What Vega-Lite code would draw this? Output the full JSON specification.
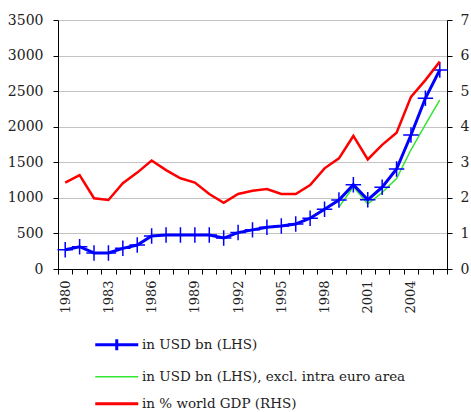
{
  "$schema": "https://vega.github.io/schema/vega-lite/v6.json",
  "width": 389,
  "height": 249,
  "autosize": {"type": "none"},
  "padding": {"left": 58, "top": 20, "right": 24, "bottom": 143},
  "config": {
    "font": "DejaVu Serif",
    "view": {"stroke": null},
    "axis": {"domainColor": "#000000", "tickColor": "#000000", "labelColor": "#222222", "labelFont": "DejaVu Serif", "title": null},
    "legend": {"labelFont": "DejaVu Serif"}
  },
  "data": {
    "values": [
      {"year": 1980, "series": "in USD bn (LHS)", "value": 270},
      {"year": 1981, "series": "in USD bn (LHS)", "value": 313},
      {"year": 1982, "series": "in USD bn (LHS)", "value": 225},
      {"year": 1983, "series": "in USD bn (LHS)", "value": 225},
      {"year": 1984, "series": "in USD bn (LHS)", "value": 290},
      {"year": 1985, "series": "in USD bn (LHS)", "value": 337},
      {"year": 1986, "series": "in USD bn (LHS)", "value": 464},
      {"year": 1987, "series": "in USD bn (LHS)", "value": 478},
      {"year": 1988, "series": "in USD bn (LHS)", "value": 478},
      {"year": 1989, "series": "in USD bn (LHS)", "value": 478},
      {"year": 1990, "series": "in USD bn (LHS)", "value": 478},
      {"year": 1991, "series": "in USD bn (LHS)", "value": 435},
      {"year": 1992, "series": "in USD bn (LHS)", "value": 512},
      {"year": 1993, "series": "in USD bn (LHS)", "value": 550},
      {"year": 1994, "series": "in USD bn (LHS)", "value": 586},
      {"year": 1995, "series": "in USD bn (LHS)", "value": 605},
      {"year": 1996, "series": "in USD bn (LHS)", "value": 633},
      {"year": 1997, "series": "in USD bn (LHS)", "value": 713},
      {"year": 1998, "series": "in USD bn (LHS)", "value": 839},
      {"year": 1999, "series": "in USD bn (LHS)", "value": 970},
      {"year": 2000, "series": "in USD bn (LHS)", "value": 1185},
      {"year": 2001, "series": "in USD bn (LHS)", "value": 972},
      {"year": 2002, "series": "in USD bn (LHS)", "value": 1150},
      {"year": 2003, "series": "in USD bn (LHS)", "value": 1405},
      {"year": 2004, "series": "in USD bn (LHS)", "value": 1884},
      {"year": 2005, "series": "in USD bn (LHS)", "value": 2400},
      {"year": 2006, "series": "in USD bn (LHS)", "value": 2798},
      {"year": 1999, "series": "in USD bn (LHS), excl. intra euro area", "value": 870},
      {"year": 2000, "series": "in USD bn (LHS), excl. intra euro area", "value": 1155},
      {"year": 2001, "series": "in USD bn (LHS), excl. intra euro area", "value": 915},
      {"year": 2002, "series": "in USD bn (LHS), excl. intra euro area", "value": 1075},
      {"year": 2003, "series": "in USD bn (LHS), excl. intra euro area", "value": 1272},
      {"year": 2004, "series": "in USD bn (LHS), excl. intra euro area", "value": 1676},
      {"year": 2005, "series": "in USD bn (LHS), excl. intra euro area", "value": 2028},
      {"year": 2006, "series": "in USD bn (LHS), excl. intra euro area", "value": 2376},
      {"year": 1980, "series": "in % world GDP (RHS)", "value": 2.43},
      {"year": 1981, "series": "in % world GDP (RHS)", "value": 2.64},
      {"year": 1982, "series": "in % world GDP (RHS)", "value": 1.99},
      {"year": 1983, "series": "in % world GDP (RHS)", "value": 1.94},
      {"year": 1984, "series": "in % world GDP (RHS)", "value": 2.41},
      {"year": 1985, "series": "in % world GDP (RHS)", "value": 2.71},
      {"year": 1986, "series": "in % world GDP (RHS)", "value": 3.05},
      {"year": 1987, "series": "in % world GDP (RHS)", "value": 2.78},
      {"year": 1988, "series": "in % world GDP (RHS)", "value": 2.55},
      {"year": 1989, "series": "in % world GDP (RHS)", "value": 2.43},
      {"year": 1990, "series": "in % world GDP (RHS)", "value": 2.11},
      {"year": 1991, "series": "in % world GDP (RHS)", "value": 1.86},
      {"year": 1992, "series": "in % world GDP (RHS)", "value": 2.11},
      {"year": 1993, "series": "in % world GDP (RHS)", "value": 2.2},
      {"year": 1994, "series": "in % world GDP (RHS)", "value": 2.25},
      {"year": 1995, "series": "in % world GDP (RHS)", "value": 2.11},
      {"year": 1996, "series": "in % world GDP (RHS)", "value": 2.11},
      {"year": 1997, "series": "in % world GDP (RHS)", "value": 2.36},
      {"year": 1998, "series": "in % world GDP (RHS)", "value": 2.83},
      {"year": 1999, "series": "in % world GDP (RHS)", "value": 3.11},
      {"year": 2000, "series": "in % world GDP (RHS)", "value": 3.74},
      {"year": 2001, "series": "in % world GDP (RHS)", "value": 3.08},
      {"year": 2002, "series": "in % world GDP (RHS)", "value": 3.49},
      {"year": 2003, "series": "in % world GDP (RHS)", "value": 3.83},
      {"year": 2004, "series": "in % world GDP (RHS)", "value": 4.84},
      {"year": 2005, "series": "in % world GDP (RHS)", "value": 5.31},
      {"year": 2006, "series": "in % world GDP (RHS)", "value": 5.83}
    ]
  },
  "encoding": {
    "x": {
      "field": "year",
      "type": "ordinal",
      "scale": {"type": "band", "paddingInner": 0, "paddingOuter": 0},
      "axis": {
        "labelAngle": 270,
        "labelExpr": "(datum.value - 1980) % 3 == 0 ? datum.value : ''",
        "tickBand": "extent",
        "tickSize": 5,
        "labelPadding": 6,
        "labelFontSize": 13,
        "grid": false
      }
    },
    "color": {
      "field": "series",
      "type": "nominal",
      "scale": {
        "domain": ["in USD bn (LHS)", "in USD bn (LHS), excl. intra euro area", "in % world GDP (RHS)"],
        "range": ["#0000ff", "#33e633", "#ff0000"]
      },
      "legend": {
        "orient": "none",
        "legendX": 52,
        "legendY": 318,
        "title": null,
        "direction": "vertical",
        "labelFontSize": 13.5,
        "labelColor": "#222222",
        "labelLimit": 400,
        "symbolSize": 1850,
        "symbolType": "M-1,0H1",
        "rowPadding": 12,
        "labelOffset": 18.5,
        "encode": {
          "symbols": {
            "update": {
              "shape": {"signal": "datum.value == 'in USD bn (LHS)' ? 'M-1,0H1M0,-0.25V0.25' : 'M-1,0H1'"},
              "strokeWidth": {"signal": "datum.value == 'in USD bn (LHS), excl. intra euro area' ? 1.5 : 3"}
            }
          }
        }
      }
    }
  },
  "layer": [
    {
      "encoding": {
        "y": {
          "field": "value",
          "type": "quantitative",
          "scale": {"domain": [0, 3500], "nice": false},
          "axis": {
            "values": [0, 500, 1000, 1500, 2000, 2500, 3000, 3500],
            "format": "d",
            "grid": true,
            "gridColor": "#c4c4c4",
            "tickSize": 5,
            "labelPadding": 10,
            "labelFontSize": 14
          }
        }
      },
      "layer": [
        {
          "transform": [{"filter": "datum.series == 'in USD bn (LHS), excl. intra euro area'"}],
          "mark": {"type": "line", "strokeWidth": 1.5}
        },
        {
          "transform": [{"filter": "datum.series == 'in USD bn (LHS)'"}],
          "mark": {"type": "line", "strokeWidth": 3}
        },
        {
          "transform": [{"filter": "datum.series == 'in USD bn (LHS)'"}],
          "mark": {"type": "point", "shape": "M-1,0H1M0,-1V1", "filled": false, "stroke": "#0000ff", "strokeWidth": 1.5, "size": 240, "opacity": 1},
          "encoding": {"color": {"value": "#0000ff"}}
        }
      ]
    },
    {
      "transform": [{"filter": "datum.series == 'in % world GDP (RHS)'"}],
      "mark": {"type": "line", "strokeWidth": 2.5},
      "encoding": {
        "y": {
          "field": "value",
          "type": "quantitative",
          "scale": {"domain": [0, 7], "nice": false},
          "axis": {
            "orient": "right",
            "values": [0, 1, 2, 3, 4, 5, 6, 7],
            "grid": false,
            "tickSize": 5,
            "labelPadding": 8,
            "labelFontSize": 14
          }
        }
      }
    }
  ],
  "resolve": {"scale": {"y": "independent"}}
}
